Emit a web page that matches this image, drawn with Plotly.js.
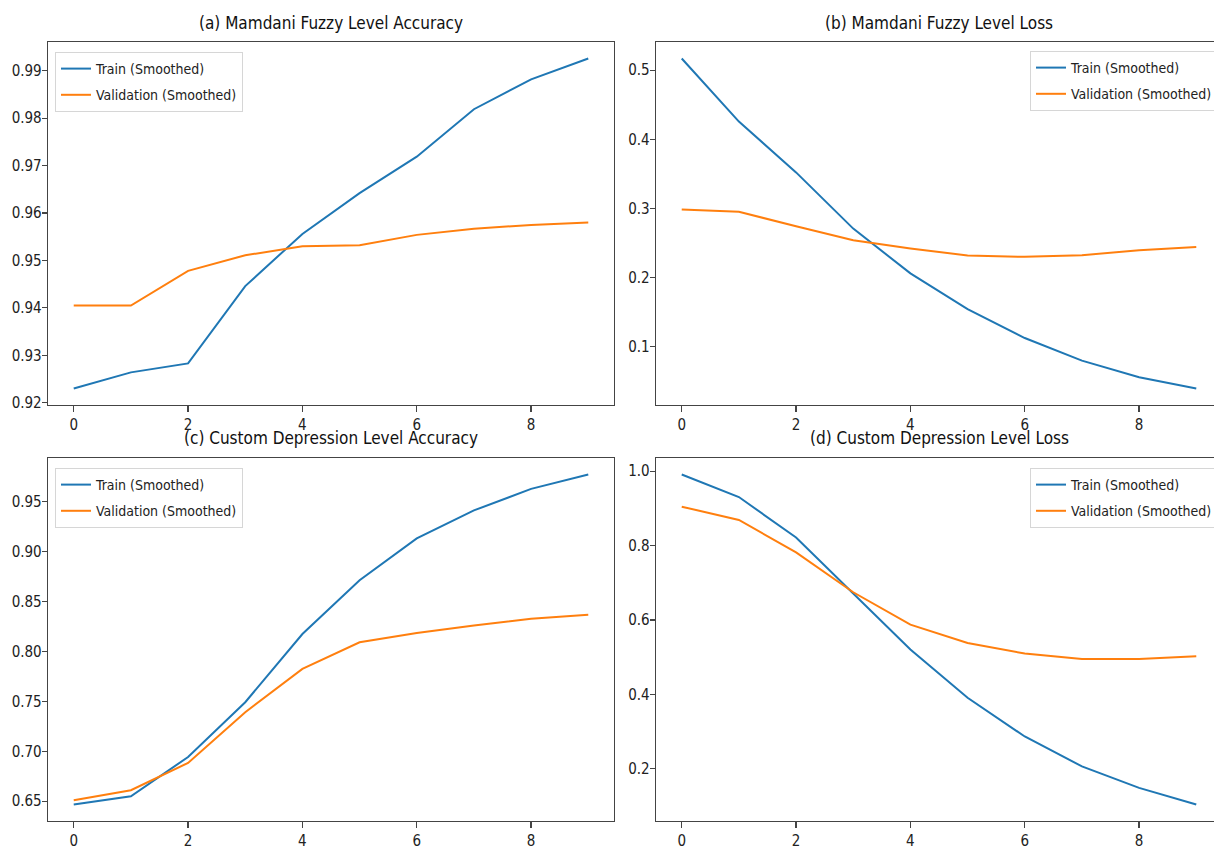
<!DOCTYPE html>
<html>
<head>
<meta charset="utf-8">
<script src="https://cdn.plot.ly/plotly-3.0.1.min.js"></script>
<style>
html, body { margin: 0; padding: 0; overflow: hidden; background: #fff; }
#chart { width: 1225px; height: 850px; }
</style>
</head>
<body>
<div id="chart"></div>
<script>
// ---- data ----
const epochs = [0, 1, 2, 3, 4, 5, 6, 7, 8, 9];
const seriesNames = ['Train (Smoothed)', 'Validation (Smoothed)'];
const panelTitles = [
  '(a) Mamdani Fuzzy Level Accuracy',
  '(b) Mamdani Fuzzy Level Loss',
  '(c) Custom Depression Level Accuracy',
  '(d) Custom Depression Level Loss'
];
const trainAccMamdani = [0.9230, 0.9264, 0.9283, 0.9446, 0.9556, 0.9642, 0.9719, 0.9819, 0.9882, 0.9926];
const valAccMamdani   = [0.9405, 0.9405, 0.9478, 0.9511, 0.9530, 0.9532, 0.9554, 0.9567, 0.9575, 0.9580];
const trainLossMamdani = [0.517, 0.4256, 0.352, 0.2706, 0.2058, 0.1539, 0.1121, 0.0794, 0.0553, 0.039];
const valLossMamdani   = [0.2984, 0.2951, 0.2739, 0.2537, 0.2418, 0.2317, 0.2297, 0.2321, 0.2393, 0.2441];
const trainAccCustom = [0.6467, 0.655, 0.6943, 0.7492, 0.8175, 0.8715, 0.9134, 0.9414, 0.963, 0.9774];
const valAccCustom   = [0.651, 0.661, 0.6883, 0.7392, 0.7826, 0.8092, 0.8185, 0.8261, 0.8328, 0.8368];
const trainLossCustom = [0.991, 0.9304, 0.8215, 0.670, 0.5203, 0.3908, 0.2865, 0.2062, 0.1483, 0.1037];
const valLossCustom   = [0.9045, 0.8689, 0.7814, 0.6744, 0.5872, 0.5379, 0.5096, 0.4951, 0.4951, 0.5023];
const xTickVals = [0, 2, 4, 6, 8];

// ---- styling / layout ----
const W = 1225, H = 850;
const FONT = '"DejaVu Sans Condensed", "DejaVu Sans", sans-serif';
const colors = ['#1f77b4', '#ff7f0e'];
const groups = ['train', 'val'];
const panels = [
  {train: trainAccMamdani, val: valAccMamdani, dtick: 0.01, fmt: '.2f', x0: 48, y0: 42, legLeft: 55, legTop: 52},
  {train: trainLossMamdani, val: valLossMamdani, dtick: 0.1, fmt: '.1f', x0: 656, y0: 42, legLeft: 1030, legTop: 51},
  {train: trainAccCustom, val: valAccCustom, dtick: 0.05, fmt: '.2f', x0: 48, y0: 458, legLeft: 55, legTop: 468},
  {train: trainLossCustom, val: valLossCustom, dtick: 0.2, fmt: '.1f', x0: 656, y0: 458, legLeft: 1030, legTop: 468}
];
const PW = 566, PH = 363;
const titleY = [23, 23, 438, 438];

const traces = [];
const layout = {
  width: W, height: H,
  margin: {l: 0, r: 0, t: 0, b: 0},
  paper_bgcolor: '#fff', plot_bgcolor: '#fff',
  font: {family: FONT, size: 15, color: '#222'},
  showlegend: true,
  annotations: []
};

panels.forEach((p, i) => {
  const n = i + 1;
  const xa = n === 1 ? 'x' : 'x' + n;
  const ya = n === 1 ? 'y' : 'y' + n;
  const leg = n === 1 ? 'legend' : 'legend' + n;
  [p.train, p.val].forEach((vals, k) => {
    traces.push({
      type: 'scatter', mode: 'lines', x: epochs, y: vals,
      name: seriesNames[k], xaxis: xa, yaxis: ya, legend: leg,
      legendgroup: groups[k] + n,
      line: {color: colors[k], width: 2}, hoverinfo: 'skip'
    });
  });
  const all = p.train.concat(p.val);
  const mn = Math.min(...all), mx = Math.max(...all);
  const pad = (mx - mn) * 0.05;
  const axCommon = {
    showline: true, linecolor: '#444', linewidth: 1.3, mirror: true,
    ticks: 'outside', ticklen: 5, tickwidth: 1.2, tickcolor: '#444',
    showgrid: false, zeroline: false, fixedrange: true,
    tickfont: {family: FONT, size: 15, color: '#222'}
  };
  layout['xaxis' + (n === 1 ? '' : n)] = Object.assign({}, axCommon, {
    anchor: ya,
    domain: [p.x0 / W, (p.x0 + PW) / W],
    range: [-0.45, 9.45],
    tickvals: xTickVals,
    ticklen: 6,
    ticklabelstandoff: 0
  });
  layout['yaxis' + (n === 1 ? '' : n)] = Object.assign({}, axCommon, {
    anchor: xa,
    domain: [1 - (p.y0 + PH) / H, 1 - p.y0 / H],
    range: [mn - pad, mx + pad],
    dtick: p.dtick, tick0: 0, tickformat: p.fmt,
    ticklabelstandoff: -3
  });
  layout[leg] = {
    x: p.legLeft / W, y: 1 - p.legTop / H, xref: 'paper', yref: 'paper',
    xanchor: 'left', yanchor: 'top',
    bgcolor: 'rgba(255,255,255,0.85)', bordercolor: '#d6d6d6', borderwidth: 1,
    font: {family: FONT, size: 14, color: '#222'},
    tracegroupgap: 5,
    itemwidth: 30
  };
  layout.annotations.push({
    text: panelTitles[i], xref: 'paper', yref: 'paper',
    x: (p.x0 + PW / 2) / W, y: 1 - titleY[i] / H,
    xanchor: 'center', yanchor: 'middle', showarrow: false,
    font: {family: FONT, size: 17, color: '#111'}
  });
});

Plotly.newPlot('chart', traces, layout, {staticPlot: true, displayModeBar: false});
</script>
</body>
</html>
